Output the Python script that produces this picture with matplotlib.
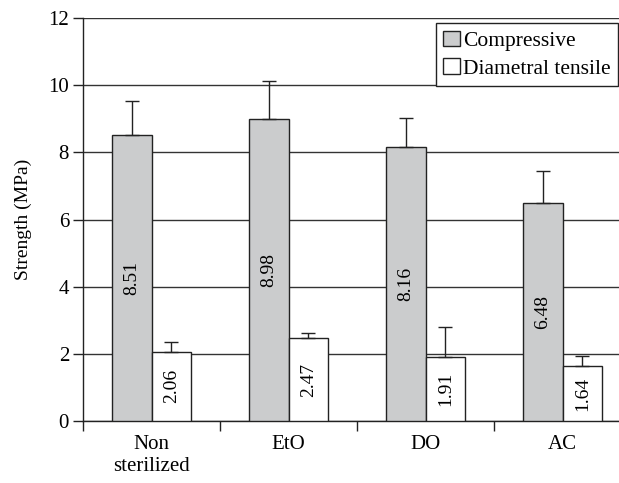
import matplotlib.pyplot as plt
import numpy as np

plt.rcParams['font.family'] = ['Liberation Serif', 'DejaVu Serif']

categories = ['Non\nsterilized', 'EtO', 'DO', 'AC']
compressive = [8.51, 8.98, 8.16, 6.48]
compressive_err = [1.03, 1.14, 0.86, 0.95]
tensile = [2.06, 2.47, 1.91, 1.64]
tensile_err = [0.29, 0.15, 0.90, 0.30]

fig = plt.figure(figsize=(6.19, 4.83), dpi=100)
# right edge of the plot runs past the image, as in the original
ax = fig.add_axes([83 / 619, 1 - 421 / 483, 548 / 619, (421 - 18) / 483])

x = np.arange(len(categories))
w = 0.29
edge = '#222222'
err_kw = dict(ecolor=edge, elinewidth=1, capsize=5, capthick=1)

ax.bar(x - w / 2, compressive, w, color='#cbcccd', edgecolor=edge, linewidth=1,
       yerr=[np.zeros(4), compressive_err], error_kw=err_kw, label='Compressive', zorder=3)
ax.bar(x + w / 2, tensile, w, color='white', edgecolor=edge, linewidth=1,
       yerr=[np.zeros(4), tensile_err], error_kw=err_kw, label='Diametral tensile', zorder=3)

for i in range(len(categories)):
    ax.text(x[i] - w / 2, compressive[i] / 2, f'{compressive[i]:.2f}', rotation=90,
            ha='center', va='center', fontsize=14, zorder=4)
    ax.text(x[i] + w / 2, tensile[i] / 2, f'{tensile[i]:.2f}', rotation=90,
            ha='center', va='center', fontsize=14, zorder=4)

ax.set_xlim(-0.5, 3.5)
ax.set_ylim(0, 12)
ax.set_yticks(range(0, 13, 2))
ax.yaxis.grid(True, color='#333333', linewidth=1)
ax.set_axisbelow(True)

ax.set_xticks(x)
ax.set_xticklabels(categories, fontsize=15, linespacing=1.25)
ax.set_xticks([-0.5, 0.5, 1.5, 2.5], minor=True)
ax.tick_params(axis='x', which='major', length=0, pad=10)
ax.tick_params(axis='x', which='minor', length=7, width=1, color=edge)
ax.tick_params(axis='y', length=7, width=1, color=edge, labelsize=15, pad=3)

ax.set_ylabel('Strength (MPa)', fontsize=14, labelpad=12)

for s in ['top', 'right']:
    ax.spines[s].set_visible(False)
for s in ['left', 'bottom']:
    ax.spines[s].set_color(edge)
    ax.spines[s].set_linewidth(1)

leg = ax.legend(loc='upper right', bbox_to_anchor=(618 / 619, 1 - 23 / 483),
                bbox_transform=fig.transFigure, fontsize=15.5, frameon=True,
                fancybox=False, framealpha=1, edgecolor=edge,
                handlelength=0.75, handleheight=0.75, handletextpad=0.15,
                borderpad=0.35, labelspacing=0.35, borderaxespad=0)
leg.get_frame().set_linewidth(1)

fig.savefig('out.png', dpi=100)
